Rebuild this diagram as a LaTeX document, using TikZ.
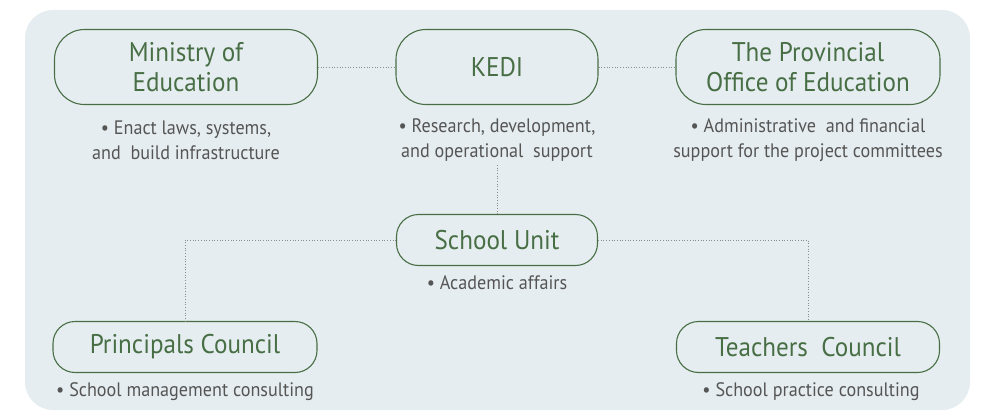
\documentclass[tikz,border=0pt]{standalone}
\usepackage{fontspec}
\setmainfont{PT Sans}
\newfontfamily\narrowsans[FakeStretch=0.93]{PT Sans}
\definecolor{panelbg}{HTML}{E6EDF0}
\definecolor{unitgreen}{HTML}{476E44}
\definecolor{notegray}{HTML}{555555}
\definecolor{linkgray}{HTML}{8C8C8C}
\tikzset{
  unitbox/.style={draw=unitgreen, line width=1.1pt, text=unitgreen, align=center,
    font=\narrowsans\fontsize{27}{30}\selectfont, inner sep=0pt},
  bigunit/.style={unitbox, minimum height=75pt, rounded corners=30pt},
  smallunit/.style={unitbox, minimum height=51pt, rounded corners=22pt},
  note/.style={text=notegray, align=center, font=\narrowsans\fontsize{19.5}{25}\selectfont},
  link/.style={draw=linkgray, line width=0.7pt, dash pattern=on 0.7pt off 2pt}
}

\begin{document}
\begin{tikzpicture}[x=1pt,y=-1pt]
  \useasboundingbox (0,0) rectangle (990,412);
  \fill [panelbg, rounded corners=28pt] (25,10) rectangle (970,410);

  % top row
  \node [bigunit, minimum width=263pt] (ministry) at (186,67) {Ministry of\\Education};
  \node [bigunit, minimum width=202pt] (kedi) at (497,67) {KEDI};
  \node [bigunit, minimum width=264pt] (province) at (808,67) {The Provincial\\Office of Education};
  \node [note] (ministrynote) at (186,140) {• Enact laws, systems,\\and~ build infrastructure};
  \node [note] (kedinote) at (497,140) {• Research, development,\\and operational~ support};
  \node [note] (provincenote) at (808,140) {• Administrative~ and financial\\support for the project committees};

  % middle and bottom
  \node [smallunit, minimum width=201pt] (school) at (497,240) {School Unit};
  \node [note] (schoolnote) at (497,283) {• Academic affairs};
  \node [smallunit, minimum width=264pt] (principals) at (185,347) {Principals Council};
  \node [smallunit, minimum width=263pt] (teachers) at (808,347) {Teachers~ Council};
  \node [note] (principalsnote) at (185,392) {• School management consulting};
  \node [note] (teachersnote) at (811,392) {• School practice consulting};

  % links
  \draw [link] (ministry) -- (kedi);
  \draw [link] (kedi) -- (province);
  \draw [link] (kedinote.south) -- (school.north);
  \draw [link] (school.west) -| (principals.north);
  \draw [link] (school.east) -| (teachers.north);
\end{tikzpicture}
\end{document}
